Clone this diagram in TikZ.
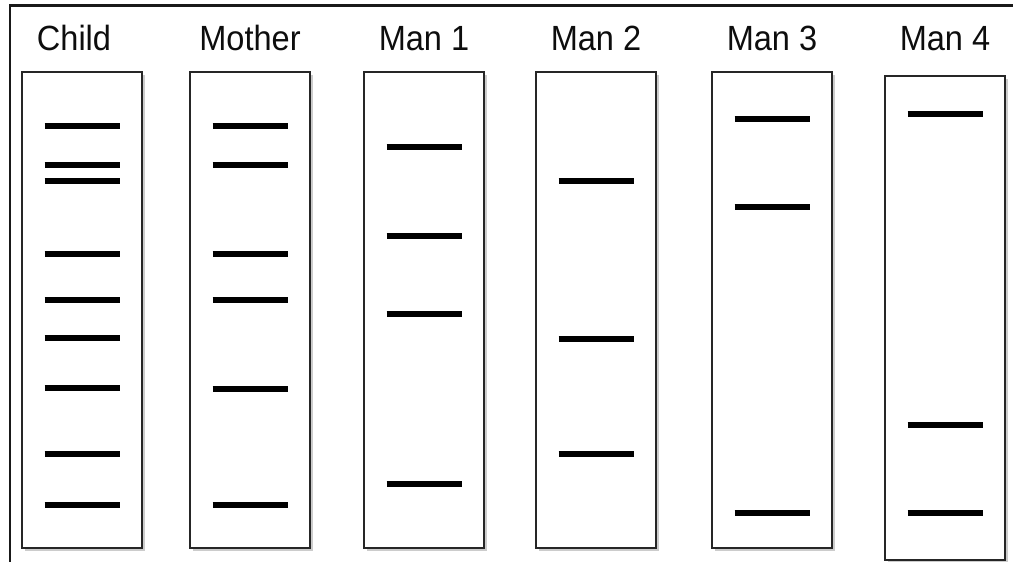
\documentclass[tikz,border=0pt]{standalone}
\usepackage{fontspec}
\setmainfont{Liberation Sans}
\usetikzlibrary{positioning,shadows}
\newcommand{\narrow}[1]{\scalebox{0.93}[1]{#1}}

\begin{document}
\begin{tikzpicture}[x=1pt,y=-1pt,
    lane/.style={draw=black!85,line width=2.2pt,fill=white,minimum width=120pt,minimum height=476pt,
        inner sep=0pt,outer sep=0pt,
        drop shadow={shadow xshift=3pt,shadow yshift=-3pt,opacity=0.4}},
    lbl/.style={font=\fontsize{35}{40}\selectfont,text=black!95,inner sep=0pt},
    band/.style={line width=5.5pt,black}]
    \useasboundingbox (0,0) rectangle (1013,562);
    % Outer frame (top and left edges only)
    \draw[line width=2.2pt,black!90] (10,562) -- (10,5.5) -- (1013,5.5);

    % Define the lanes side by side
    \node[lane] (child) at (82,310) {};
    \node[lane] (mother) [right=48pt of child] {};
    \node[lane] (man1) [right=54pt of mother] {};
    \node[lane] (man2) [right=52pt of man1] {};
    \node[lane] (man3) [right=56pt of man2] {};
    \node[lane,minimum height=484pt] (man4) [right=53pt of man3,yshift=-8pt] {};

    % Lane labels
    \node[lbl,above=22pt of child.north,anchor=base,xshift=-8pt] (childlbl) {\narrow{Child}};
    \node[lbl,above=22pt of mother.north,anchor=base] (motherlbl) {\narrow{Mother}};
    \node[lbl,above=22pt of man1.north,anchor=base] (man1lbl) {\narrow{Man 1}};
    \node[lbl,above=22pt of man2.north,anchor=base] (man2lbl) {\narrow{Man 2}};
    \node[lbl,above=22pt of man3.north,anchor=base] (man3lbl) {\narrow{Man 3}};
    \node[lbl,above=26pt of man4.north,anchor=base] (man4lbl) {\narrow{Man 4}};

    % Bands, measured down from the top of each lane
    \foreach \lane/\ys in {child/{54,93,109,182,228,266,316,382,433},
                           mother/{54,93,182,228,317,433},
                           man1/{75,164,242,412},
                           man2/{109,267,382},
                           man3/{47,135,441},
                           man4/{38,349,437}}
        \foreach \y in \ys
            \draw[band] ([xshift=-37.5pt,yshift=-\y pt]\lane.north) -- ++(75,0);
\end{tikzpicture}
\end{document}
